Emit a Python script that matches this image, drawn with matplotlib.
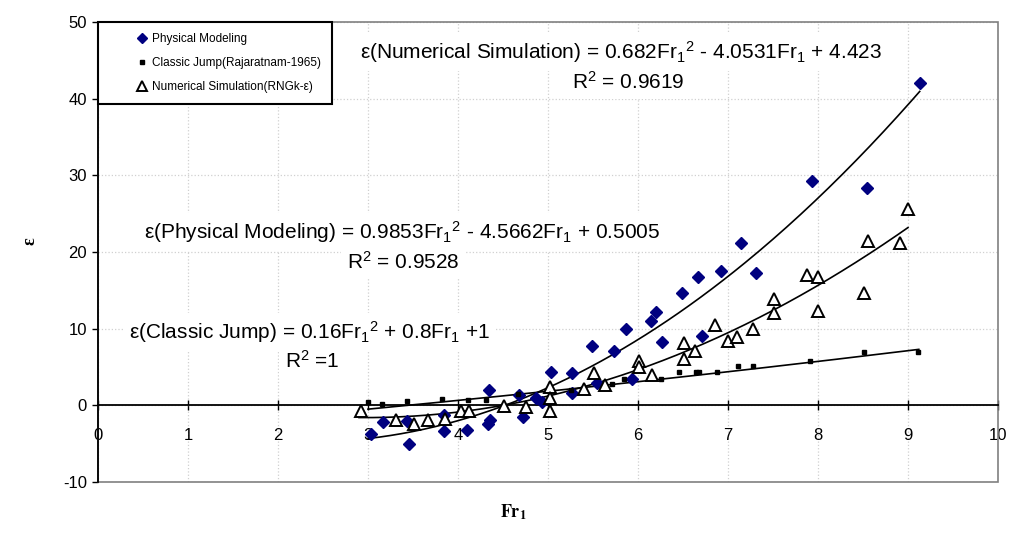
import numpy as np
import matplotlib
matplotlib.use('Agg')
import matplotlib.pyplot as plt
from matplotlib.patches import Rectangle
from matplotlib.lines import Line2D

plt.rcParams['font.family'] = ['Liberation Sans', 'DejaVu Sans']
plt.rcParams['mathtext.fontset'] = 'custom'
plt.rcParams['mathtext.rm'] = 'Liberation Sans'
plt.rcParams['mathtext.it'] = 'Liberation Sans:italic'
plt.rcParams['mathtext.bf'] = 'Liberation Sans:bold'
plt.rcParams['axes.unicode_minus'] = False

# ---------------- data ----------------
phys_x = [3.03, 3.17, 3.43, 3.45, 3.84, 3.84, 4.10, 4.33, 4.36, 4.35, 4.68, 4.72, 4.87, 4.93,
          5.03, 5.27, 5.27, 5.49, 5.54, 5.73, 5.87, 5.93, 6.14, 6.20, 6.27, 6.49, 6.67, 6.71,
          6.92, 7.14, 7.31, 7.93, 8.54, 9.13]
phys_y = [-3.75, -2.2, -2.0, -5.05, -3.4, -1.3, -3.2, -2.4, -1.9, 2.0, 1.35, -1.5, 1.0, 0.5,
          4.3, 4.2, 1.65, 7.7, 2.85, 7.1, 10.0, 3.5, 11.0, 12.2, 8.2, 14.7, 16.8, 9.0,
          17.5, 21.2, 17.3, 29.3, 28.3, 42.1]

classic_x = [3.0, 3.15, 3.43, 3.82, 4.11, 4.31, 4.67, 5.25, 5.71, 5.84, 6.25, 6.46, 6.64, 6.68,
             6.88, 7.11, 7.28, 7.91, 8.51, 9.11]
classic_y = [0.47, 0.17, 0.56, 0.8, 0.65, 0.7, 1.5, 2.0, 2.8, 3.5, 3.5, 4.3, 4.3, 4.3,
             4.3, 5.1, 5.1, 5.8, 6.9, 6.9]

num_x = [2.92, 3.31, 3.51, 3.67, 3.86, 4.03, 4.12, 4.51, 4.75, 5.02, 5.02, 5.02, 5.40, 5.51,
         5.63, 6.01, 6.01, 6.15, 6.51, 6.51, 6.63, 6.86, 7.00, 7.10, 7.28, 7.51, 7.51, 7.88,
         8.00, 8.00, 8.51, 8.56, 8.91, 9.00]
num_y = [-0.8, -1.9, -2.4, -1.9, -1.8, -0.7, -0.8, -0.05, -0.2, 2.4, 1.0, -0.7, 2.1, 4.25,
         2.65, 5.8, 5.0, 3.95, 8.1, 6.1, 7.1, 10.5, 8.4, 8.9, 10.0, 13.9, 12.0, 17.0,
         16.8, 12.3, 14.7, 21.4, 21.2, 25.6]

# trend-line coefficients (a, b, c) and ranges
phys_coef = [0.9853, -4.5662, 0.5005]
num_coef = [0.682, -4.0531, 4.423]
classic_coef = [0.0257, 0.963, -3.62]
phys_range = [3.0, 9.13]
num_range = [2.9, 9.0]
classic_range = [3.0, 9.12]

x_ticks = [0, 1, 2, 3, 4, 5, 6, 7, 8, 9, 10]
y_ticks = [-10, 0, 10, 20, 30, 40, 50]

legend_labels = ['Physical Modeling', 'Classic Jump(Rajaratnam-1965)', 'Numerical Simulation(RNGk-ε)']

eq_num = r'ε(Numerical Simulation) = 0.682$\mathregular{Fr_1{}^{2}}$ - 4.0531$\mathregular{Fr_1}$ + 4.423'
r2_num = r'$\mathregular{R^2}$ = 0.9619'
eq_phys = r'ε(Physical Modeling) = 0.9853$\mathregular{Fr_1{}^{2}}$ - 4.5662$\mathregular{Fr_1}$ + 0.5005'
r2_phys = r'$\mathregular{R^2}$ = 0.9528'
eq_cls = r'ε(Classic Jump) = 0.16$\mathregular{Fr_1{}^{2}}$ + 0.8$\mathregular{Fr_1}$ +1'
r2_cls = r'$\mathregular{R^2}$ =1'

# ---------------- figure ----------------
W, H = 1009, 541
fig = plt.figure(figsize=(W / 100, H / 100), dpi=100)
ax = fig.add_axes([98 / W, 1 - 482 / H, 900 / W, 460 / H])
ax.set_xlim(0, 10)
ax.set_ylim(-10, 50)

ax.set_xticks(x_ticks)
ax.set_yticks(y_ticks)
ax.grid(True, color='#d0d0d0', linestyle=':', linewidth=0.9)
ax.set_axisbelow(True)

for s in ['top', 'right']:
    ax.spines[s].set_visible(False)
ax.spines['bottom'].set_position(('data', 0))
ax.spines['bottom'].set_linewidth(1.3)
ax.spines['left'].set_linewidth(1.3)
ax.add_patch(Rectangle((0, 0), 1, 1, transform=ax.transAxes, fill=False,
                       edgecolor='#808080', linewidth=1.2, zorder=0.6, clip_on=False))

ax.tick_params(axis='x', direction='inout', length=7, width=1, pad=13, labelsize=12)
ax.tick_params(axis='y', direction='out', length=4, width=1, pad=4, labelsize=12)

# data
ax.plot(phys_x, phys_y, linestyle='none', marker='D', markersize=6.2,
        color='#000080', zorder=4)
ax.plot(classic_x, classic_y, linestyle='none', marker='s', markersize=2.4,
        color='black', zorder=4)
ax.plot(num_x, num_y, linestyle='none', marker='^', markersize=9,
        markerfacecolor='white', markeredgecolor='black', markeredgewidth=1.4, zorder=5)

for coef, rng in [(phys_coef, phys_range), (num_coef, num_range), (classic_coef, classic_range)]:
    xs = np.linspace(rng[0], rng[1], 200)
    ax.plot(xs, np.polyval(coef, xs), color='black', linewidth=1.2, zorder=3)

# equations
bbox = dict(facecolor='white', edgecolor='none', pad=4)
def px2d(px, py):
    return (px - 98) / 90.0, 50 - (py - 22) * 60.0 / 460.0

for txt, (px, py) in [(eq_num, (621, 52)), (r2_num, (628, 82)),
                      (eq_phys, (402, 232)), (r2_phys, (403, 262)),
                      (eq_cls, (310, 332)), (r2_cls, (312, 361))]:
    xd, yd = px2d(px, py)
    ax.text(xd, yd, txt, ha='center', va='center', fontsize=15, zorder=1,
            bbox=bbox)

# legend
handles = [
    Line2D([], [], linestyle='none', marker='D', markersize=5, color='#000080'),
    Line2D([], [], linestyle='none', marker='s', markersize=2.4, color='black'),
    Line2D([], [], linestyle='none', marker='^', markersize=7, markerfacecolor='white',
           markeredgecolor='black', markeredgewidth=1.4),
]
leg = ax.legend(handles, legend_labels, loc='upper left', bbox_to_anchor=(0, 1),
                borderaxespad=0, fontsize=8.5, frameon=True, fancybox=False,
                edgecolor='black', framealpha=1, borderpad=0.95, labelspacing=1.0,
                handlelength=5.5, handletextpad=-1.9)
leg.get_frame().set_linewidth(1.5)
leg.set_zorder(6)

# axis labels
fig.text(30 / W, 1 - 241 / H, 'ε', rotation=90, ha='center', va='center',
         fontsize=13, fontweight='bold', family=['Liberation Serif', 'DejaVu Serif'])
fig.text(513 / W, 1 - 512 / H, r'$\mathbf{Fr_1}$', ha='center', va='center',
         fontsize=13, math_fontfamily='stix')

fig.savefig('out.png', dpi=100)
